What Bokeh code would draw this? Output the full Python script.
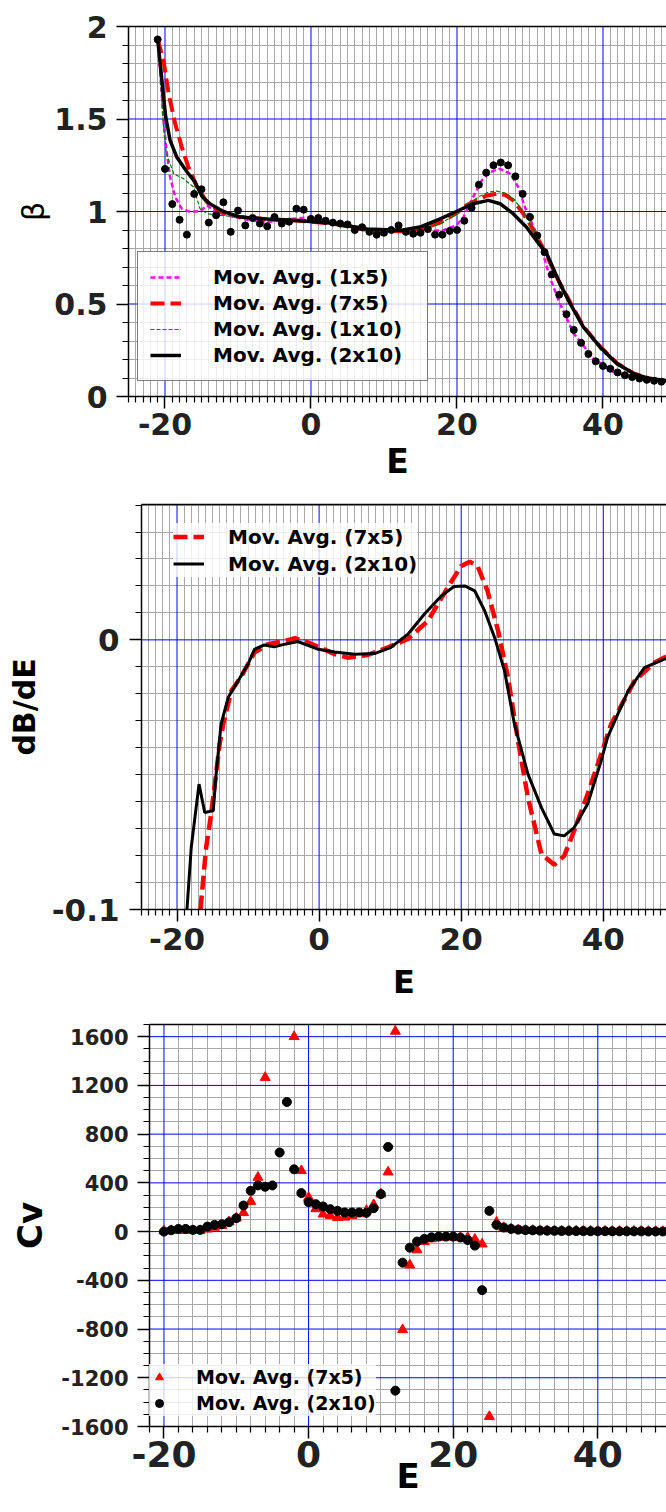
import math
from bokeh.plotting import figure
from bokeh.models import (FixedTicker, LinearAxis, Legend, LegendItem, Range1d,
                          PrintfTickFormatter, Span)
from bokeh.embed import file_html
from bokeh.resources import INLINE

FONT = "DejaVu Sans"
NAN = float("nan")

# ---------------- top panel data (beta vs E) ----------------
beta_E = list(range(-21, 49))
beta_pts = [1.93, 1.23, 1.04, 0.955, 0.875, 1.095, 1.12, 0.94, 0.98, 1.05,
            0.89, 1.005, 0.925, 0.965, 0.935, 0.92, 0.97, 0.935, 0.945, 1.015,
            1.01, 0.96, 0.965, 0.95, 0.94, 0.935, 0.93, 0.90, 0.915, 0.89,
            0.875, 0.885, 0.90, 0.925, 0.89, 0.88, 0.885, 0.905, 0.875, 0.875,
            0.895, 0.90, 0.95, 1.02, 1.145, 1.21, 1.25, 1.265, 1.25, 1.19,
            1.095, 0.97, 0.87, 0.78, 0.66, 0.55, 0.445, 0.36, 0.29, 0.23,
            0.19, 0.165, 0.15, 0.13, 0.115, 0.105, 0.097, 0.09, 0.085, 0.08]

mag_E = [-21, -20.6, -20.2, -19.8, -19.3, -18.6, -17.7, -16.5, -15.2, -14.25,
         -13.3, -11.5, -8.3, -6, -2.4, 0.1, 3.1, 5.3, 9, 12.2, 15.8, 18.1, 19.9,
         20.9, 22.2, 23.4, 24.5, 25.9, 27.3, 28.4, 29.3, 30.5, 31.4, 32.7, 34.1,
         36, 38.7, 41.4, 44.2, 47.8, 48.7]
mag_B = [1.93, 1.72, 1.49, 1.33, 1.186, 1.078, 1.015, 0.997, 1.002, 1.033,
         1.006, 0.979, 0.952, 0.943, 0.961, 0.97, 0.943, 0.925, 0.898, 0.898,
         0.894, 0.898, 0.925, 0.97, 1.078, 1.168, 1.213, 1.231, 1.204, 1.132,
         1.024, 0.916, 0.826, 0.646, 0.502, 0.34, 0.205, 0.133, 0.103, 0.08, 0.077]

red_E = [-21, -20.2, -19.5, -18.6, -17.7, -16.8, -15.6, -14.25, -12.4, -10, -6,
         -1.5, 3, 7.6, 12.2, 14.9, 17.7, 19.9, 21.3, 22.7, 24, 25.4, 26.6, 27.7,
         29.1, 30.5, 32, 34, 35.5, 37.3, 39.6, 41.9, 44.2, 46.4, 48.7]
red_B = [1.93, 1.816, 1.636, 1.474, 1.348, 1.24, 1.132, 1.051, 0.997, 0.972,
         0.958, 0.95, 0.935, 0.9, 0.893, 0.905, 0.94, 0.99, 1.033, 1.06, 1.085,
         1.096, 1.09, 1.06, 0.988, 0.898, 0.785, 0.62, 0.51, 0.38, 0.27, 0.18,
         0.125, 0.097, 0.083]

grn_E = [-21, -20.6, -20.2, -19.8, -18.8, -17.45, -16.1, -15.2, -14.25, -12.4,
         -10, -6, -1.5, 3, 7.6, 12.2, 15, 17.7, 19.9, 21.5, 23, 24.3, 25.4, 26.6,
         27.7, 29.1, 30.5, 32, 34, 35.5, 37.3, 39.6, 41.9, 44.2, 46.4, 48.7]
grn_B = [1.93, 1.7, 1.456, 1.312, 1.204, 1.177, 1.132, 1.015, 0.988, 0.979,
         0.97, 0.958, 0.95, 0.935, 0.9, 0.893, 0.9, 0.935, 0.985, 1.04, 1.08,
         1.105, 1.11, 1.1, 1.07, 1.0, 0.905, 0.78, 0.61, 0.5, 0.37, 0.255, 0.17,
         0.12, 0.095, 0.082]

blk_E = [-21, -20.6, -20.2, -19.9, -19.3, -18.4, -17, -15.9, -14.9, -13.8, -12,
         -9.7, -6, -1.5, 3, 7.6, 12.2, 14.9, 17.7, 19.9, 22.2, 24.3, 25.9, 27.7,
         29.5, 31.2, 32.3, 34.1, 35.5, 37.3, 39.6, 41.9, 44.2, 46.4, 48.7]
blk_B = [1.93, 1.78, 1.62, 1.51, 1.385, 1.295, 1.215, 1.16, 1.08, 1.04, 1.0,
         0.97, 0.96, 0.95, 0.937, 0.905, 0.898, 0.916, 0.96, 1.0, 1.042, 1.06,
         1.042, 0.988, 0.916, 0.826, 0.772, 0.61, 0.502, 0.376, 0.268, 0.178,
         0.124, 0.097, 0.084]

# ---------------- middle panel data (dB/dE) ----------------
d_blk_E = [-18.6, -18.0, -16.9, -16.1, -14.9, -14.5, -13.8, -12.8, -11.4, -10.0,
           -9.1, -7.7, -6.3, -4.85, -3.0, -0.1, 2.2, 5.0, 7.8, 10.1, 12.5, 14.8,
           17.2, 19.0, 20.5, 21.9, 23.3, 24.7, 26.1, 27.5, 29.4, 31.3, 33.1,
           34.5, 35.9, 37.8, 39.7, 40.6, 43.5, 45.8, 49.1]
d_blk = [-0.1, -0.077, -0.0535, -0.064, -0.0634, -0.0498, -0.0313, -0.0214,
         -0.0152, -0.009, -0.0035, -0.0019, -0.0026, -0.0016, -0.0006, -0.0035,
         -0.0045, -0.0053, -0.0051, -0.0028, 0.0021, 0.0095, 0.0163, 0.0198,
         0.02, 0.0182, 0.0108, 0.0009, -0.0115, -0.0313, -0.0498, -0.0622,
         -0.072, -0.0727, -0.0696, -0.0609, -0.0449, -0.0362, -0.0189, -0.0103,
         -0.0066]
d_red_E = [-16.7, -15.9, -15.2, -14.5, -14.0, -13.5, -12.35, -10.9, -9.1, -7.2,
           -4.85, -3.4, -1.5, 2.2, 4.0, 6.85, 9.7, 12.5, 15.3, 18.1, 20.0, 21.2,
           22.3, 23.7, 25.2, 26.6, 28.0, 29.4, 31.3, 33.1, 34.5, 35.9, 37.8,
           39.7, 41.1, 44.4, 47.2, 49.1]
d_red = [-0.1, -0.077, -0.0646, -0.0498, -0.0387, -0.0313, -0.0189, -0.0133,
         -0.0047, -0.0016, -0.0004, 0.0006, -0.001, -0.0053, -0.0066, -0.0056,
         -0.0028, 0.0003, 0.007, 0.0194, 0.0274, 0.029, 0.0274, 0.0182, 0.0033,
         -0.014, -0.0375, -0.0585, -0.0795, -0.0834, -0.0801, -0.0708, -0.0572,
         -0.0424, -0.0313, -0.0152, -0.0084, -0.0059]

# ---------------- bottom panel data (Cv) ----------------
cv_E = list(range(-20, 50))
cv_red = [5, 8, 8, 8, 8, 8, 20, 35, 50, 80,
          110, 155, 247, 445, 1265, NAN, NAN, NAN, 1600, 500,
          280, 187, 143, 132, 115, 118, 132, 146, 173, 220,
          308, 489, 1644, -806, -275, -151, -82, -60, -49, -44,
          -44, -49, -49, -63, -102, -1518, 77, 33, 22, 14,
          11, 9, 8, 7, 6, 5, 5, 4, 4, 3,
          3, 3, 2, 2, 2, 2, 2, 1, 1, 1]
cv_blk = [0, 11, 22, 22, 14, 14, 41, 55, 60, 77,
          110, 214, 335, 379, 368, 379, 649, 1064, 511, 316,
          242, 225, 206, 184, 170, 157, 157, 157, 154, 192,
          308, 695, -1306, -255, -132, -82, -60, -47, -41, -41,
          -41, -49, -69, -115, -481, 170, 55, 33, 22, 16,
          12, 10, 8, 7, 6, 5, 5, 4, 4, 3,
          3, 3, 2, 2, 2, 2, 2, 1, 1, 1]

# tick values
top_x_major = [-20, 0, 20, 40]
top_x_minor = [v for v in range(-25, 50) if v not in top_x_major]
top_y_major = [0, 0.5, 1, 1.5, 2]
top_y_minor = [round(0.1 * i, 2) for i in range(0, 21) if i % 5 != 0]
mid_y_major = [-0.1, 0]
mid_y_minor = [round(-0.1 + 0.01 * i, 3) for i in range(1, 16) if i != 10]
bot_x_major = [-20, 0, 20, 40]
bot_x_minor = [v for v in range(-22, 51, 2) if v not in bot_x_major]
bot_y_major = list(range(-1600, 1601, 400))
bot_y_minor = [v for v in range(-1600, 1701, 100) if v not in bot_y_major]


def make_fig(height, left, top, bottom, xr, yr):
    p = figure(width=666, height=height, x_range=Range1d(*xr), y_range=Range1d(*yr),
               output_backend="svg", toolbar_location=None,
               min_border_left=left, min_border_right=0,
               min_border_top=top, min_border_bottom=bottom)
    p.outline_line_color = None
    p.background_fill_color = "white"
    p.border_fill_color = "white"
    return p


def add_top_spine(p):
    top_ax = LinearAxis(ticker=FixedTicker(ticks=[]), major_label_text_font_size="0px",
                        axis_line_width=1.5, axis_line_color="black",
                        major_tick_out=0, minor_tick_out=0, major_tick_in=0, minor_tick_in=0)
    p.add_layout(top_ax, "above")


def style_axes(p, xmaj, xmin, ymaj, ymin, xfs, yfs, xstand, ystand):
    xa = p.below[0]
    ya = p.left[0]
    for ax, maj, mn, fs, st in ((xa, xmaj, xmin, xfs, xstand),
                                (ya, ymaj, ymin, yfs, ystand)):
        ax.ticker = FixedTicker(ticks=maj, minor_ticks=mn)
        ax.formatter = PrintfTickFormatter(format="%g")
        ax.axis_line_width = 1.5
        ax.axis_line_color = "black"
        ax.major_tick_line_width = 1.5
        ax.minor_tick_line_width = 1.2
        ax.major_tick_out = 12
        ax.major_tick_in = 0
        ax.minor_tick_out = 6
        ax.minor_tick_in = 0
        ax.major_label_text_font = FONT
        ax.major_label_text_font_style = "bold"
        ax.major_label_text_font_size = fs
        ax.major_label_text_color = "#222222"
        ax.major_label_standoff = st
        ax.axis_label_text_font = FONT
        ax.axis_label_text_color = "black"
    p.xgrid[0].ticker = FixedTicker(ticks=xmaj, minor_ticks=xmin)
    p.ygrid[0].ticker = FixedTicker(ticks=ymaj, minor_ticks=ymin)
    for g in (p.xgrid[0], p.ygrid[0]):
        g.grid_line_color = None
        g.minor_grid_line_color = "#a8a8a8"
        g.minor_grid_line_width = 1
    # blue major grid lines
    for v in xmaj:
        p.add_layout(Span(location=v, dimension="height", line_color="#0000ff",
                          line_width=1, level="underlay"))
    for v in ymaj:
        p.add_layout(Span(location=v, dimension="width", line_color="#0000ff",
                          line_width=1, level="underlay"))
    return xa, ya


# ---------------- top figure ----------------
p1 = make_fig(495, 128, 26, 99, (-25, 48.7), (0, 2))
xa, ya = style_axes(p1, top_x_major, top_x_minor, top_y_major, top_y_minor, "30px", "30px", 4, 9)
xa.axis_label = "E"
xa.axis_label_text_font_size = "33px"
xa.axis_label_text_font_style = "bold"
xa.axis_label_standoff = 4
ya.axis_label = "β"
ya.axis_label_text_font_size = "30px"
ya.axis_label_text_font_style = "normal"
ya.axis_label_standoff = 0
add_top_spine(p1)

r_mag = p1.line(mag_E, mag_B, line_color="#ff00ff", line_width=2.5, line_dash="5 3")
r_red = p1.line(red_E, red_B, line_color="red", line_width=4, line_dash="14 6")
r_grn = p1.line(grn_E, grn_B, line_color="green", line_width=1.2, line_dash="4 2")
r_blk = p1.line(blk_E, blk_B, line_color="black", line_width=3.5)
p1.scatter(beta_E, beta_pts, size=7, marker="circle", fill_color="black", line_color="black")

leg1 = Legend(items=[LegendItem(label="Mov. Avg. (1x5)", renderers=[r_mag]),
                     LegendItem(label="Mov. Avg. (7x5)", renderers=[r_red]),
                     LegendItem(label="Mov. Avg. (1x10)", renderers=[r_grn]),
                     LegendItem(label="Mov. Avg. (2x10)", renderers=[r_blk])],
              location=(9, 15))
p1.add_layout(leg1)

# ---------------- middle figure ----------------
p2 = make_fig(510, 141, 9, 96, (-25, 48.9), (-0.1, 0.0502))
xa, ya = style_axes(p2, top_x_major, top_x_minor, mid_y_major, mid_y_minor, "31px", "31px", 6, 10)
xa.axis_label = "E"
xa.axis_label_text_font_size = "32px"
xa.axis_label_text_font_style = "bold"
xa.axis_label_standoff = 10
ya.axis_label = "dB/dE"
ya.axis_label_text_font_size = "30px"
ya.axis_label_text_font_style = "bold"
ya.axis_label_standoff = 7
add_top_spine(p2)

r2_red = p2.line(d_red_E, d_red, line_color="red", line_width=4.5, line_dash="14 6")
r2_blk = p2.line(d_blk_E, d_blk, line_color="black", line_width=3)
leg2 = Legend(items=[LegendItem(label="Mov. Avg. (7x5)", renderers=[r2_red]),
                     LegendItem(label="Mov. Avg. (2x10)", renderers=[r2_blk])],
              location=(32, 332))
p2.add_layout(leg2)

# ---------------- bottom figure ----------------
p3 = make_fig(507, 149, 19, 86, (-22, 49.5), (-1600, 1700))
xa, ya = style_axes(p3, bot_x_major, bot_x_minor, bot_y_major, bot_y_minor, "36px", "21px", 2, 9)
xa.axis_label = "E"
xa.axis_label_text_font_size = "34px"
xa.axis_label_text_font_style = "bold"
xa.axis_label_standoff = -14
ya.axis_label = "Cv"
ya.axis_label_text_font_size = "34px"
ya.axis_label_text_font_style = "bold"
ya.axis_label_standoff = 8
add_top_spine(p3)

r3_red = p3.scatter(cv_E, cv_red, marker="triangle", size=10, fill_color="red", line_color="red")
r3_blk = p3.scatter(cv_E, cv_blk, marker="circle", size=9, fill_color="black", line_color="black")
leg3 = Legend(items=[LegendItem(label="Mov. Avg. (7x5)", renderers=[r3_red]),
                     LegendItem(label="Mov. Avg. (2x10)", renderers=[r3_blk])],
              location=(0, 10))
p3.add_layout(leg3)

for lg, fs in ((leg1, "20px"), (leg2, "20px"), (leg3, "19px")):
    lg.label_text_font = FONT
    lg.label_text_font_style = "bold"
    lg.label_text_font_size = fs
    lg.label_text_color = "black"
    lg.spacing = 0
    lg.margin = 0
    lg.background_fill_color = "white"
    lg.background_fill_alpha = 0.8

leg1.glyph_width = 31
leg1.glyph_height = 26
leg1.padding = 12
leg1.label_standoff = 32
leg1.label_width = 202
leg1.border_line_color = "black"
leg1.border_line_width = 1.2

leg2.glyph_width = 31
leg2.glyph_height = 27
leg2.padding = 11
leg2.label_standoff = 24
leg2.border_line_color = None

leg3.glyph_width = 20
leg3.glyph_height = 26
leg3.padding = 2
leg3.label_standoff = 27
leg3.border_line_color = None

open("out.html", "w").write(file_html([p1, p2, p3], INLINE))
